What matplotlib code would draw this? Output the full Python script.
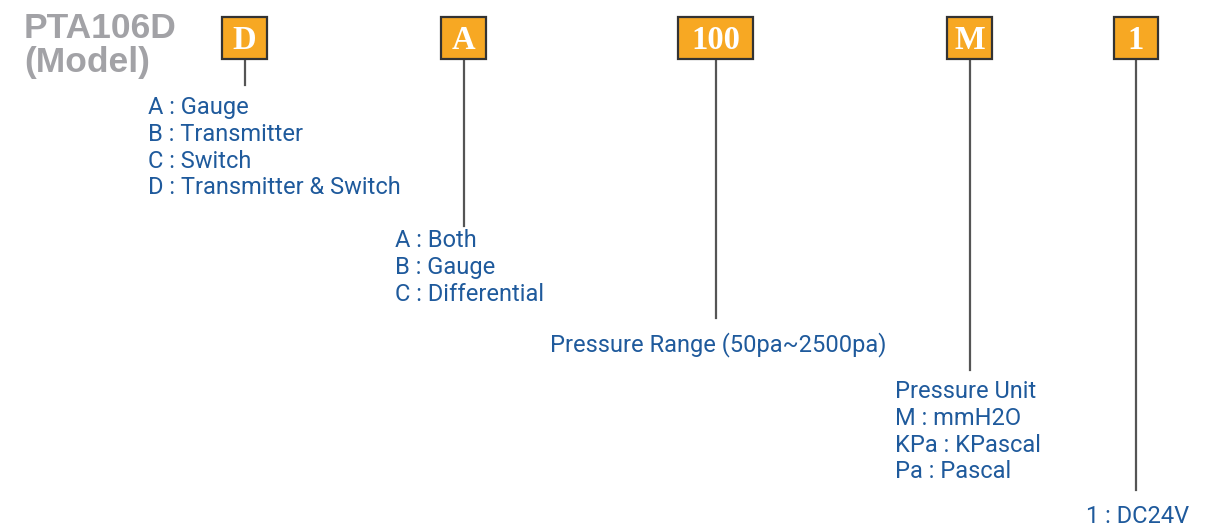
import matplotlib.pyplot as plt
from matplotlib.patches import Rectangle

# model code boxes and their option lists
box_labels = ["D", "A", "100", "M", "1"]
option_groups = [
    ["A : Gauge", "B : Transmitter", "C : Switch", "D : Transmitter & Switch"],
    ["A : Both", "B : Gauge", "C : Differential"],
    ["Pressure Range (50pa~2500pa)"],
    ["Pressure Unit", "M : mmH2O", "KPa : KPascal", "Pa : Pascal"],
    ["1 : DC24V"],
]
model_name = "PTA106D"
model_sub = "(Model)"

# layout in pixels (x left/right of box, line end, text x, first baseline)
box_x0 = [222, 441, 678, 947, 1114]
box_x1 = [267, 486, 753, 992, 1158]
line_end = [85, 226, 318, 370, 490]
text_x = [148, 395, 550, 895, 1086]
text_y = [114, 247, 351, 398, 523]
line_gap = 26.8

orange = "#f7a823"
blue = "#1f5a9c"
grey = "#a2a2a6"

fig = plt.figure(figsize=(12.14, 5.28), dpi=100)
ax = fig.add_axes([0, 0, 1, 1])
ax.set_xlim(0, 1214)
ax.set_ylim(528, 0)
ax.axis("off")

txt_font = ["Roboto", "DejaVu Sans"]

ax.text(24, 38, model_name, fontsize=25.5, fontweight="bold", color=grey,
        family="Liberation Sans", va="baseline")
ax.text(24, 72, model_sub, fontsize=25.5, fontweight="bold", color=grey,
        family="Liberation Sans", va="baseline")

for i, lab in enumerate(box_labels):
    x0, x1 = box_x0[i], box_x1[i]
    xc = (x0 + x1) / 2
    ax.plot([xc, xc], [59, line_end[i]], color="#555555", lw=1.6, zorder=1)
    ax.add_patch(Rectangle((x0, 17), x1 - x0, 42, facecolor=orange,
                           edgecolor="#333333", lw=1.6, zorder=2))
    ax.text(xc, 49, lab, fontsize=23.5, fontweight="bold", color="white",
            family="Liberation Serif", ha="center", va="baseline", zorder=3)
    for j, line in enumerate(option_groups[i]):
        ax.text(text_x[i], text_y[i] + j * line_gap, line, fontsize=17,
                color=blue, family=txt_font, va="baseline")

fig.savefig("out.png", dpi=100)
